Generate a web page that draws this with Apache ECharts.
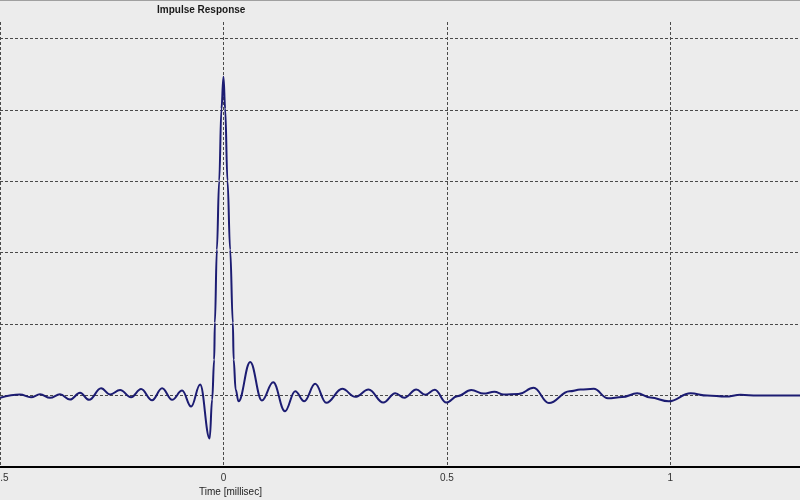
<!DOCTYPE html>
<html>
<head>
<meta charset="utf-8">
<script src="https://cdn.jsdelivr.net/npm/echarts@6/dist/echarts.min.js"></script>
<style>
html,body{margin:0;padding:0;background:#ececec;}
#chart{width:800px;height:500px;}
</style>
</head>
<body>
<div id="chart"></div>
<script>
// Time axis (milliseconds)
const timeMs = [
  -0.5, -0.4552, -0.4306, -0.4104, -0.3880, -0.3657, -0.3433, -0.3209, -0.3007, -0.2738,
  -0.2537, -0.2313, -0.2067, -0.1843, -0.1597, -0.1373, -0.1149, -0.0925, -0.0723, -0.0522,
  -0.0309, -0.0253, -0.0208, -0.0192, -0.0148, -0.0096, -0.0045, 0, 0.0038, 0.0090,
  0.0150, 0.0210, 0.0228, 0.0273, 0.0336, 0.0598, 0.0860, 0.1113, 0.1375, 0.1605,
  0.1807, 0.2053, 0.2300, 0.2658, 0.2949, 0.3247, 0.3576, 0.3845, 0.4046, 0.4315,
  0.4516, 0.4729, 0.4987, 0.5233, 0.5546, 0.5822, 0.6061, 0.6270, 0.6599, 0.6941,
  0.7282, 0.7741, 0.7987, 0.8285, 0.8603, 0.8921, 0.9257, 0.9554, 0.9964, 1.0450,
  1.0824, 1.1234, 1.1570, 1.1944, 1.2353, 1.29
];
// Impulse response amplitude
const amplitude = [
  -0.032, 0.014, -0.024, 0.017, -0.032, 0.017, -0.056, 0.038, -0.060, 0.101,
  0.014, 0.077, -0.024, 0.091, -0.066, 0.102, -0.060, 0.070, -0.154, 0.154,
  -0.601, -0.056, 0.503, 1.021, 2.042, 3.007, 4.014, 4.462, 4.014, 3.007,
  2.042, 1.021, 0.503, 0.084, -0.080, 0.471, -0.070, 0.186, -0.220, 0.060,
  -0.080, 0.164, -0.102, 0.094, -0.018, 0.084, -0.098, 0.032, -0.032, 0.084,
  0.011, 0.080, -0.098, -0.010, 0.077, 0.028, 0.053, 0.014, 0.021, 0.108,
  -0.105, 0.060, 0.084, 0.094, -0.038, -0.021, 0.031, -0.028, -0.080, 0.032,
  0, -0.014, 0.010, 0, 0, 0
];
const xTickLabels = { '-0.5': '-0.5', '0': '0', '0.5': '0.5', '1': '1' };
const titleText = 'Impulse Response';
const xAxisTitle = 'Time [millisec]';

const chart = echarts.init(document.getElementById('chart'), null, { renderer: 'canvas' });
const gridStyle = { color: '#4a4a4a', width: 1, type: [3, 2] };
chart.setOption({
  backgroundColor: '#ececec',
  animation: false,
  grid: { left: 0, right: 0, top: 22, bottom: 33, containLabel: false, outerBoundsMode: 'none' },
  xAxis: {
    type: 'value', min: -0.5, max: 1.29, interval: 0.5,
    axisLine: { show: true, onZero: false, lineStyle: { color: '#000', width: 2 } },
    axisTick: { show: false },
    axisLabel: {
      show: true, color: '#333', fontSize: 10, fontFamily: 'Liberation Sans, Arial, sans-serif',
      margin: 6, showMaxLabel: false, hideOverlap: false,
      formatter: v => (xTickLabels[String(v)] !== undefined ? xTickLabels[String(v)] : '')
    },
    splitLine: { show: true, showMinLine: true, showMaxLine: false, lineStyle: gridStyle }
  },
  yAxis: {
    type: 'value', min: -1, max: 5.23, interval: 1,
    axisLine: { show: false }, axisTick: { show: false }, axisLabel: { show: false },
    splitLine: { show: true, showMinLine: false, showMaxLine: false, lineStyle: gridStyle }
  },
  graphic: [
    { type: 'line', shape: { x1: 0, y1: 0.5, x2: 800, y2: 0.5 }, style: { stroke: '#a0a0a0', lineWidth: 1 } },
    { type: 'text', left: 157, top: 5, style: { text: titleText, fill: '#1a1a1a', font: 'bold 10px "Liberation Sans", Arial, sans-serif' } },
    { type: 'text', left: 199, top: 487, style: { text: xAxisTitle, fill: '#222', font: '10px "Liberation Sans", Arial, sans-serif' } }
  ],
  series: [{
    type: 'line',
    data: timeMs.map((t, i) => [t, amplitude[i]]),
    showSymbol: false,
    smooth: 0.4,
    smoothMonotone: 'x',
    lineStyle: { color: '#1c1c72', width: 2 },
    clip: true
  }]
});
</script>
</body>
</html>
